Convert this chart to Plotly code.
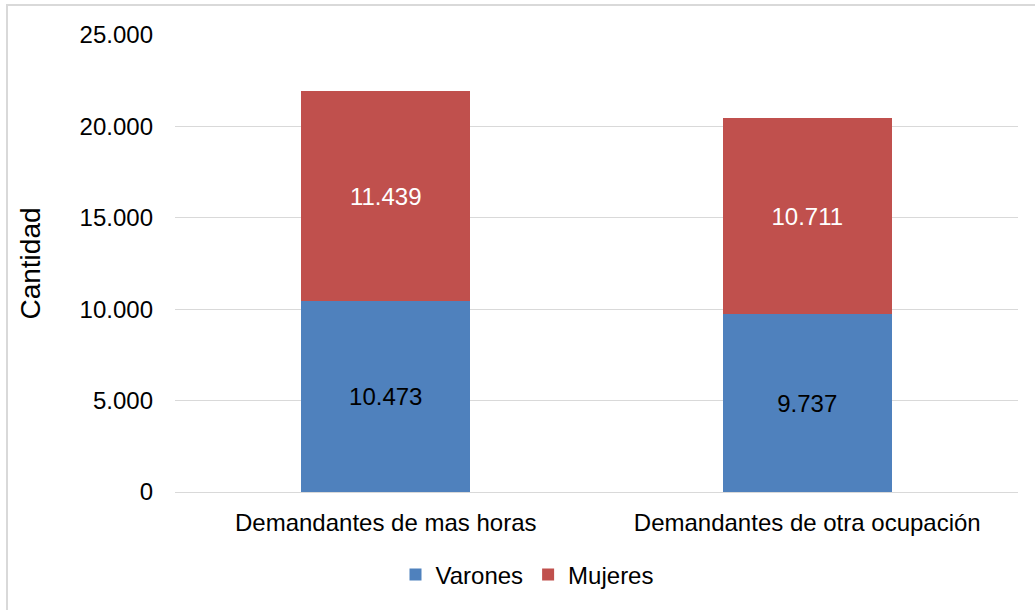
import plotly.graph_objects as go

categories = ["Demandantes de mas horas", "Demandantes de otra ocupación"]
varones = [10473, 9737]
mujeres = [11439, 10711]
y_ticks = [0, 5000, 10000, 15000, 20000, 25000]

FONT = "Liberation Sans, Arial, sans-serif"
FS = 24

fig = go.Figure()
fig.add_trace(go.Bar(
    x=categories, y=varones, name="Varones",
    marker=dict(color="#4F81BD", line=dict(width=0)),
    texttemplate="%{y:,}", textposition="inside", insidetextanchor="middle",
    textfont=dict(color="black", size=FS, family=FONT),
))
fig.add_trace(go.Bar(
    x=categories, y=mujeres, name="Mujeres",
    marker=dict(color="#C0504D", line=dict(width=0)),
    texttemplate="%{y:,}", textposition="inside", insidetextanchor="middle",
    textfont=dict(color="white", size=FS, family=FONT),
))

L, R, T, B = 175, 17, 35, 118
W, H = 1035, 610
pw, ph = W - L - R, H - T - B

def px_x(x):
    return (x - L) / pw

def px_y(y):
    return (H - B - y) / ph

fig.update_layout(
    width=W, height=H,
    margin=dict(l=L, r=R, t=T, b=B, autoexpand=False),
    barmode="stack", bargap=0.6,
    separators=",.",
    paper_bgcolor="white", plot_bgcolor="white",
    font=dict(family=FONT, size=FS, color="black"),
    showlegend=True,
    legend=dict(orientation="h", x=px_x(527), xanchor="center",
                y=px_y(575), yanchor="middle", font=dict(size=FS),
                traceorder="normal", itemwidth=30, tracegroupgap=0),
    xaxis=dict(showline=False, ticks="", tickfont=dict(size=FS),
               ticklabelstandoff=14),
    yaxis=dict(range=[0, 25000], tickvals=y_ticks, tickformat=",d",
               showgrid=True, gridcolor="#D9D9D9", gridwidth=1,
               zeroline=True, zerolinecolor="#D9D9D9", zerolinewidth=1,
               showline=False, ticks="", ticklabelstandoff=21,
               tickfont=dict(size=FS),
               title=dict(text="Cantidad", font=dict(size=28), standoff=30)),
    uniformtext=dict(mode=False),
)

fig.add_shape(type="rect", xref="paper", yref="paper",
              x0=px_x(7), x1=px_x(1045), y0=px_y(5), y1=px_y(620),
              line=dict(color="#D9D9D9", width=2), fillcolor="rgba(0,0,0,0)",
              layer="below")

fig.write_html("out.html", config={"displayModeBar": False},
               post_script="document.body.style.margin='0';document.body.style.overflow='hidden';")
